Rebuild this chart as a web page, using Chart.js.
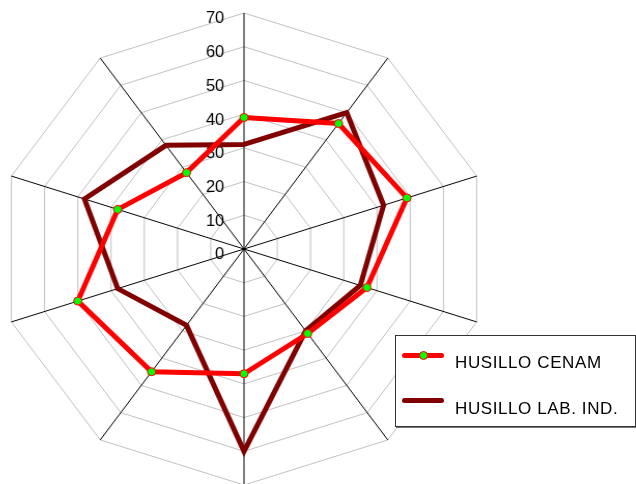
<!DOCTYPE html>
<html>
<head>
<meta charset="utf-8">
<script src="https://cdn.jsdelivr.net/npm/chart.js@4/dist/chart.umd.min.js"></script>
<style>
body { margin: 0; background: #fff; font-family: "Liberation Sans", Arial, sans-serif; }
#wrap { position: relative; width: 636px; height: 484px; overflow: hidden; }
#chart { position: absolute; left: -11px; top: 3px; }
#legend { position: absolute; left: 395px; top: 335px; width: 241px; height: 92px;
  box-sizing: border-box; border: 1px solid #333; box-shadow: 1px 1px 0 #777; background: #fff; }
.sample { position: absolute; left: 6px; width: 42px; height: 5px; border-radius: 3px; }
.dot { position: absolute; left: 23px; width: 9px; height: 9px; box-sizing: border-box;
  border-radius: 50%; border: 1px solid #ff0000; background: #00ff00; }
.txt { position: absolute; left: 59px; font-size: 17px; line-height: 20px; letter-spacing: 0.6px;
  color: #000; white-space: nowrap; }
</style>
</head>
<body>
<div id="wrap">
  <!-- drawn square, then stretched a bit wider like the original picture -->
  <canvas id="chart" width="492" height="492" style="width:510px;height:492px"></canvas>
  <div id="legend"></div>
</div>
<script>
// Datos
const categorias = ['1', '2', '3', '4', '5', '6', '7', '8', '9', '10'];
const husilloCenam = [39, 46, 49, 37, 31, 37, 45, 50, 38, 28];
const husilloLabInd = [31, 50, 42, 35, 30, 60, 28, 38, 48, 38];
const valoresTicks = [0, 10, 20, 30, 40, 50, 60, 70];
const etiquetasTicks = ['0', '10', '20', '30', '40', '50', '60', '70'];
const nombresSeries = ['HUSILLO CENAM', 'HUSILLO LAB. IND.'];

// etiquetas de la escala a la izquierda del eje vertical
const etiquetasEscala = {
    id: 'etiquetasEscala',
    beforeDatasetsDraw(chart) {
        const r = chart.scales.r;
        const ctx = chart.ctx;
        ctx.save();
        ctx.font = '16px "Liberation Sans", Arial, sans-serif';
        ctx.fillStyle = '#000';
        ctx.textAlign = 'right';
        ctx.textBaseline = 'middle';
        valoresTicks.forEach(function(v, i) {
            const p = r.getPointPositionForValue(0, v);
            ctx.fillText(etiquetasTicks[i], p.x - 19, p.y + 6);
        });
        ctx.restore();
    }
};

const ctx = document.getElementById('chart').getContext('2d');
const chart = new Chart(ctx, {
    type: 'radar',
    data: {
        labels: categorias,
        datasets: [{
            label: nombresSeries[0],
            data: husilloCenam,
            borderColor: '#ff0000',
            borderWidth: 5,
            fill: false,
            pointRadius: 4,
            pointBorderWidth: 1,
            pointBackgroundColor: '#00ff00',
            pointBorderColor: '#ff0000'
        }, {
            label: nombresSeries[1],
            data: husilloLabInd,
            borderColor: '#800000',
            borderWidth: 5,
            fill: false,
            pointRadius: 0
        }]
    },
    options: {
        responsive: false,
        devicePixelRatio: 1,
        animation: false,
        layout: { padding: 10, autoPadding: false },
        elements: { line: { tension: 0, borderJoinStyle: 'miter' } },
        scales: {
            r: {
                min: 0,
                max: 70,
                ticks: { display: false, stepSize: 10 },
                pointLabels: { display: false },
                grid: { color: '#c0c0c0', lineWidth: 1 },
                angleLines: { color: '#000', lineWidth: 1 }
            }
        },
        plugins: {
            legend: { display: false },
            tooltip: { enabled: false }
        }
    },
    plugins: [etiquetasEscala]
});

// leyenda en HTML, construida desde los datasets
const legend = document.getElementById('legend');
const filas = [{ linea: 17, texto: 17 }, { linea: 62, texto: 63 }];
chart.data.datasets.forEach(function(ds, i) {
    const s = document.createElement('div');
    s.className = 'sample';
    s.style.top = filas[i].linea + 'px';
    s.style.background = ds.borderColor;
    legend.appendChild(s);
    if (ds.pointRadius > 0) {
        const d = document.createElement('div');
        d.className = 'dot';
        d.style.top = (filas[i].linea - 2) + 'px';
        legend.appendChild(d);
    }
    const t = document.createElement('div');
    t.className = 'txt';
    t.style.top = filas[i].texto + 'px';
    t.textContent = ds.label;
    legend.appendChild(t);
});
</script>
</body>
</html>
